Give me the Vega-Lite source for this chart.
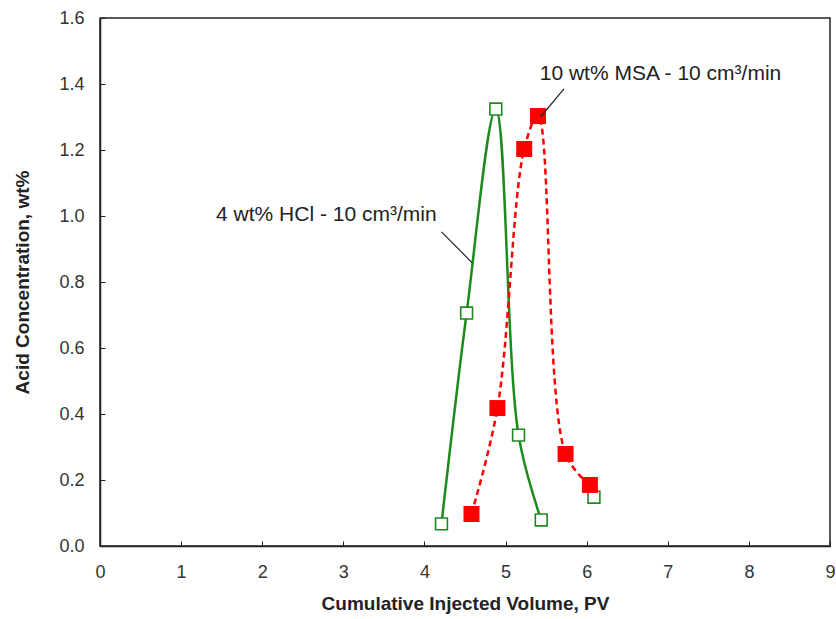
{
  "$schema": "https://vega.github.io/schema/vega-lite/v6.json",
  "width": 730,
  "height": 528,
  "autosize": {"type": "none"},
  "padding": {"left": 100, "top": 18, "right": 6, "bottom": 73},
  "background": "white",
  "config": {
    "view": {"stroke": "#222", "strokeWidth": 1.5},
    "font": "Liberation Sans",
    "axis": {
      "grid": false,
      "domain": true,
      "domainColor": "#222",
      "domainWidth": 1.5,
      "tickColor": "#222",
      "tickSize": -5,
      "tickWidth": 1,
      "labelFlush": false,
      "labelFont": "Liberation Sans",
      "labelFontSize": 18,
      "labelColor": "#333",
      "titleFont": "Liberation Sans",
      "titleFontSize": 19,
      "titleFontWeight": "bold",
      "titleColor": "#222"
    }
  },
  "datasets": {
    "points": [
      {"x": 4.21, "y": 0.067, "series": "HCl"},
      {"x": 4.52, "y": 0.706, "series": "HCl"},
      {"x": 4.88, "y": 1.324, "series": "HCl"},
      {"x": 5.16, "y": 0.336, "series": "HCl"},
      {"x": 5.44, "y": 0.079, "series": "HCl"},
      {"x": 6.09, "y": 0.148, "series": "HCl"},
      {"x": 4.58, "y": 0.097, "series": "MSA"},
      {"x": 4.90, "y": 0.418, "series": "MSA"},
      {"x": 5.23, "y": 1.203, "series": "MSA"},
      {"x": 5.40, "y": 1.303, "series": "MSA"},
      {"x": 5.74, "y": 0.279, "series": "MSA"},
      {"x": 6.04, "y": 0.185, "series": "MSA"}
    ],
    "labels": [
      {"x": 2.79, "y": 1.003, "label": "4 wt% HCl - 10 cm³/min"},
      {"x": 6.91, "y": 1.430, "label": "10 wt% MSA - 10 cm³/min"}
    ],
    "leaders": [
      {"x": 4.21, "y": 0.952, "x2": 4.59, "y2": 0.858},
      {"x": 5.72, "y": 1.385, "x2": 5.43, "y2": 1.30}
    ]
  },
  "layer": [
    {
      "data": {"name": "points"},
      "transform": [{"filter": "datum.series == 'HCl' && datum.x < 6"}],
      "mark": {"type": "line", "interpolate": "catmull-rom", "color": "#1e8a1e", "strokeWidth": 2.5},
      "encoding": {
        "x": {"field": "x", "type": "quantitative", "scale": {"domain": [0, 9], "nice": false}, "axis": {"title": "Cumulative Injected Volume, PV", "values": [0,1,2,3,4,5,6,7,8,9], "format": "d", "labelPadding": 22, "titlePadding": 13}},
        "y": {"field": "y", "type": "quantitative", "scale": {"domain": [0, 1.6], "nice": false}, "axis": {"title": "Acid Concentration, wt%", "values": [0,0.2,0.4,0.6,0.8,1.0,1.2,1.4,1.6], "format": ".1f", "labelPadding": 21, "titlePadding": 26}}
      }
    },
    {
      "data": {"name": "points"},
      "transform": [{"filter": "datum.series == 'MSA'"}],
      "mark": {"type": "line", "interpolate": "catmull-rom", "color": "#ff0000", "strokeWidth": 2.5, "strokeDash": [6, 4]},
      "encoding": {
        "x": {"field": "x", "type": "quantitative"},
        "y": {"field": "y", "type": "quantitative"}
      }
    },
    {
      "data": {"name": "points"},
      "transform": [{"filter": "datum.series == 'HCl'"}],
      "mark": {"type": "square", "filled": false, "color": "#1e8a1e", "size": 140, "strokeWidth": 1.6, "opacity": 1, "fill": "white", "fillOpacity": 1},
      "encoding": {
        "x": {"field": "x", "type": "quantitative"},
        "y": {"field": "y", "type": "quantitative"}
      }
    },
    {
      "data": {"name": "points"},
      "transform": [{"filter": "datum.series == 'MSA'"}],
      "mark": {"type": "square", "filled": true, "color": "#ff0000", "size": 256, "opacity": 1},
      "encoding": {
        "x": {"field": "x", "type": "quantitative"},
        "y": {"field": "y", "type": "quantitative"}
      }
    },
    {
      "data": {"name": "leaders"},
      "mark": {"type": "rule", "color": "#222", "strokeWidth": 1.2},
      "encoding": {
        "x": {"field": "x", "type": "quantitative"},
        "y": {"field": "y", "type": "quantitative"},
        "x2": {"field": "x2"},
        "y2": {"field": "y2"}
      }
    },
    {
      "data": {"name": "labels"},
      "mark": {"type": "text", "font": "Liberation Sans", "fontSize": 21, "color": "#222", "align": "center", "baseline": "middle"},
      "encoding": {
        "x": {"field": "x", "type": "quantitative"},
        "y": {"field": "y", "type": "quantitative"},
        "text": {"field": "label"}
      }
    }
  ]
}
